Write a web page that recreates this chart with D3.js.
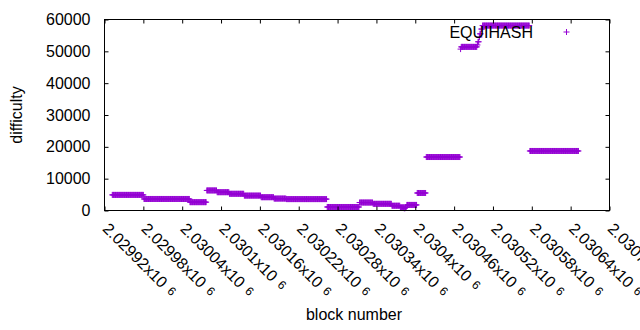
<!DOCTYPE html>
<html><head><meta charset="utf-8">
<script src="https://cdn.jsdelivr.net/npm/d3@7"></script>
<style>body{margin:0;background:#fff} svg{display:block} text{font-family:"Liberation Sans",Arial,sans-serif;fill:#000}</style>
</head><body><svg id="c" width="640" height="330"></svg>
<script>
const xTickValues = [2029920, 2029980, 2030040, 2030100, 2030160, 2030220, 2030280, 2030340, 2030400, 2030460, 2030520, 2030580, 2030640, 2030700];
const xTickLabels = ["2.02992", "2.02998", "2.03004", "2.0301", "2.03016", "2.03022", "2.03028", "2.03034", "2.0304", "2.03046", "2.03052", "2.03058", "2.03064", "2.0307"];
const yTickValues = [0, 10000, 20000, 30000, 40000, 50000, 60000];
const yTickLabels = ["0", "10000", "20000", "30000", "40000", "50000", "60000"];
// difficulty is constant from each start block until the next start block
const segStart = [2029932, 2029981, 2030052, 2030078, 2030094, 2030113, 2030136, 2030162, 2030182, 2030201, 2030264, 2030314, 2030335, 2030364, 2030377, 2030383, 2030385, 2030387, 2030403, 2030417, 2030470, 2030471, 2030496, 2030497, 2030499, 2030500, 2030502, 2030504, 2030577];
const segDifficulty = [4900, 3620, 2620, 6300, 5750, 5250, 4680, 4180, 3750, 3580, 1100, 2500, 2100, 1500, 1000, 700, 1000, 1750, 5500, 16800, 50700, 51400, 52000, 53000, 54500, 55500, 57000, 58100, 18700];
const lastBlock = 2030652;
const seriesName = "EQUIHASH";

const svg = d3.select("#c");
const L = 104.5, R = 609.5, T = 19.5, B = 210.5;
const x = d3.scaleLinear().domain([xTickValues[0], xTickValues[xTickValues.length - 1]]).range([L, R]);
const y = d3.scaleLinear().domain([0, 60000]).range([B, T]);
const color = "#9400d3";
const hs = 3;

const pts = [];
segStart.forEach((s, i) => {
  const e = i < segStart.length - 1 ? segStart[i + 1] - 1 : lastBlock;
  for (let b = s; b <= e; b++) pts.push({ b: b, v: segDifficulty[i] });
});

const plus = (px, py) => `M${px - hs},${py}H${px + hs}M${px},${py - hs}V${py + hs}`;

svg.append("g").selectAll("path").data(pts).join("path")
  .attr("d", d => plus(x(d.b), y(d.v)))
  .attr("stroke", color).attr("stroke-width", 1).attr("fill", "none");

// axes (inward ticks, mirrored)
function styleAxis(g) { g.select(".domain").remove(); g.selectAll("line").attr("stroke", "#000"); }
svg.append("g").attr("transform", `translate(0,${B})`)
  .call(d3.axisBottom(x).tickValues(xTickValues).tickSizeInner(-4).tickSizeOuter(0).tickFormat(""))
  .call(styleAxis).selectAll("text").remove();
svg.append("g").attr("transform", `translate(0,${T})`)
  .call(d3.axisTop(x).tickValues(xTickValues).tickSizeInner(-4).tickSizeOuter(0).tickFormat(""))
  .call(styleAxis).selectAll("text").remove();
svg.append("g").attr("transform", `translate(${R},0)`)
  .call(d3.axisRight(y).tickValues(yTickValues).tickSizeInner(-4).tickSizeOuter(0).tickFormat(""))
  .call(styleAxis).selectAll("text").remove();
const ya = svg.append("g").attr("transform", `translate(${L},0)`)
  .call(d3.axisLeft(y).tickValues(yTickValues).tickSizeInner(-4).tickSizeOuter(0).tickPadding(14)
    .tickFormat((d, i) => yTickLabels[i]))
  .call(styleAxis);
ya.attr("font-size", null).attr("font-family", null);
ya.selectAll("text").style("font-size", "16px").attr("fill", "#000");

svg.append("rect").attr("x", L).attr("y", T).attr("width", R - L).attr("height", B - T)
  .attr("fill", "none").attr("stroke", "#000").attr("stroke-width", 1);

// x tick labels rotated
const xl = svg.append("g").selectAll("text").data(xTickValues).join("text")
  .attr("transform", d => `translate(${x(d) + 1.5},${B + 15}) rotate(45)`)
  .attr("dominant-baseline", "central")
  .style("font-size", "16px");
xl.append("tspan").text((d, i) => xTickLabels[i] + "x10");
xl.append("tspan").attr("dx", 6).style("font-size", "12px").text("6");

// axis titles
svg.append("text").attr("x", 354).attr("y", 320).attr("text-anchor", "middle").style("font-size", "16px").text("block number");
svg.append("text").attr("transform", "translate(22,115) rotate(-90)").attr("text-anchor", "middle").style("font-size", "16px").text("difficulty");

// legend
svg.append("text").attr("x", 533).attr("y", 32).attr("text-anchor", "end").attr("dominant-baseline", "central")
  .style("font-size", "16px").text(seriesName);
svg.append("path").attr("d", plus(566.5, 32)).attr("stroke", color).attr("stroke-width", 1);
</script></body></html>
